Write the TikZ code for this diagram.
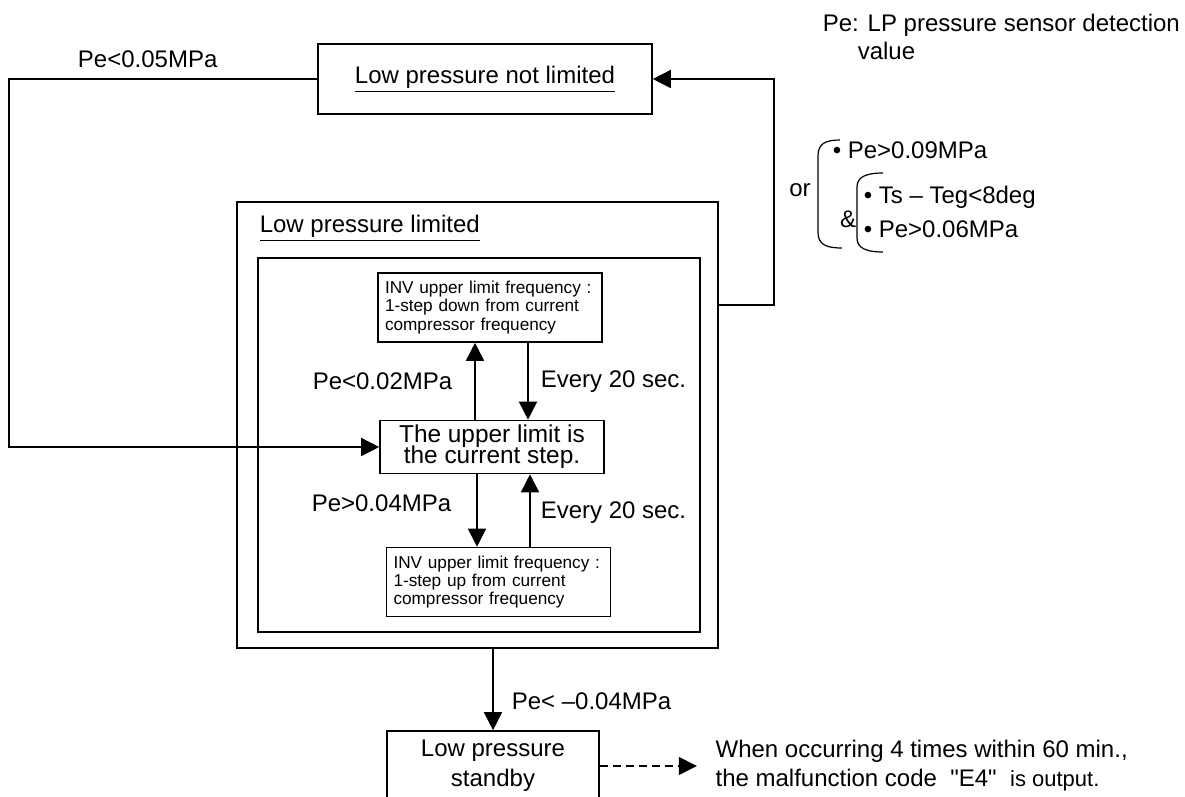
\documentclass[tikz,border=0pt]{standalone}
\usepackage{fontspec}
\setmainfont{Liberation Sans}[Ligatures=TeXOff]
\usetikzlibrary{arrows.meta, positioning}

\begin{document}
\begin{tikzpicture}[x=0.5pt, y=-0.5pt, line width=0.8pt,
    font=\fontsize{12}{15}\selectfont,
    b/.style={draw, line width=0.8pt, inner sep=0pt, align=center},
    sm/.style={b, font=\fontsize{8.6}{9.2}\selectfont, text width=105pt, align=left, inner xsep=3.5pt, minimum height=34.5pt},
    lbl/.style={inner sep=0pt},
    arr/.style={-{Triangle[length=9pt, width=9pt]}, line width=0.8pt}]
  \useasboundingbox (0,0) rectangle (1185,797);

  % states
  \node[b, minimum width=167pt, minimum height=35pt] (nl) at (485,79) {\underline{Low pressure not limited}};
  \node[b, minimum width=240.5pt, minimum height=223pt] (lim) at (477.5,425) {};
  \node[lbl, anchor=base west] (limt) at (259,233) {\underline{Low pressure limited}};
  \node[b, minimum width=221pt, minimum height=187pt] (inr) at (479,445) {};
  \node[sm] (dn) at (490,307.5) {INV upper limit frequency :\\1-step down from current\\compressor frequency};
  \node[b, minimum width=112pt, minimum height=26.5pt, font={\fontsize{12.2}{10.6}\selectfont\lineskiplimit=-20pt\relax}] (cur) at (492,447) {The upper limit is\\the current step.};
  \node[sm] (up) at (498.5,582) {INV upper limit frequency :\\1-step up from current\\compressor frequency};
  \node[b, minimum width=106pt, minimum height=35pt] (sb) at (493,766) {Low pressure\\standby};
  \node[lbl, align=left, right=57.5pt of sb, font=\fontsize{12}{14.5}\selectfont] (msg) {When occurring 4 times within 60 min.,\\the malfunction code\ \ "E4"\ \ {\fontsize{11}{14.5}\selectfont is output.}};

  % key and exit conditions
  \node[lbl, anchor=west, align=left, font=\fontsize{12}{14}\selectfont] (key) at (822,37) {Pe: LP pressure sensor detection\\\hspace*{17.5pt}value};
  \node[lbl] (or) at (800,190) {or};
  \draw[line width=0.6pt] (840,140) .. controls (825,140) and (818,144) .. (818,156) -- (818,232) .. controls (818,244) and (825,248) .. (842,248);
  \node[lbl, anchor=west] (c1) at (832,150) {• Pe>0.09MPa};
  \node[lbl] (amp) at (848,219) {\&};
  \draw[line width=0.6pt] (883,173) .. controls (866,173) and (857,177) .. (857,187) -- (857,238) .. controls (857,248) and (866,252) .. (883,252);
  \node[lbl, anchor=west] (c2) at (863,197) {• Ts – Teg<8deg};
  \node[lbl, anchor=west] (c3) at (863,229) {• Pe>0.06MPa};

  % transitions
  \coordinate (lc) at (9,447);
  \coordinate (rc) at (774,305);
  \draw[arr] (nl.west) -- node[lbl, pos=0.55, above=5pt] {Pe<0.05MPa} (nl.west -| lc) -- (lc) -- (cur.west);
  \draw[arr] (lim.east |- rc) -- (rc) |- (nl.east);
  \draw[arr] ([xshift=-8.5pt]cur.north) -- node[lbl, left=11pt] {Pe<0.02MPa} ([xshift=-7.5pt]dn.south);
  \draw[arr] ([xshift=19pt]dn.south) -- node[lbl, right=6pt] {Every 20 sec.} ([xshift=18pt]cur.north);
  \draw[arr] ([xshift=-7.5pt]cur.south) -- node[lbl, pos=0.4, left=12.5pt] {Pe>0.04MPa} ([xshift=-10.75pt]up.north);
  \draw[arr] ([xshift=15.75pt]up.north) -- node[lbl, pos=0.47, right=5pt] {Every 20 sec.} ([xshift=19pt]cur.south);
  \draw[arr] (lim.south -| sb.north) -- node[lbl, pos=0.65, right=9pt] {Pe< –0.04MPa} (sb.north);
  \draw[arr, dash pattern=on 4pt off 2.5pt] (sb.east) -- ([xshift=-9pt]msg.west);
\end{tikzpicture}
\end{document}
